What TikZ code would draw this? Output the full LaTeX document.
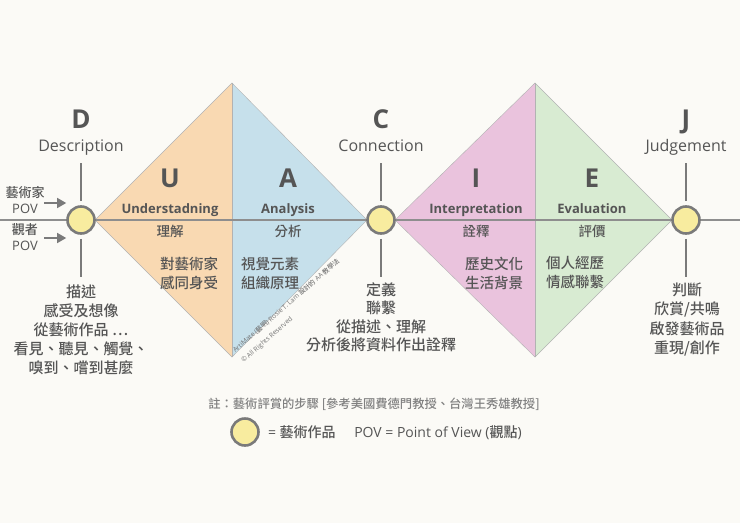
\documentclass[tikz,border=0pt]{standalone}
\usepackage{fontspec}
\setmainfont{Open Sans}
\newfontfamily\cjk{Noto Sans CJK TC}[UprightFont=* Medium, BoldFont=* Bold]
\usetikzlibrary{arrows.meta,calc,positioning}

\definecolor{paper}{HTML}{FBFAF6}
\definecolor{ink}{HTML}{555555}
\definecolor{rim}{HTML}{7A7A7A}
\definecolor{artfill}{HTML}{F8EC9F}
\definecolor{fillU}{HTML}{F9D9B2}
\definecolor{fillA}{HTML}{C6E0EB}
\definecolor{fillI}{HTML}{EAC3DD}
\definecolor{fillE}{HTML}{D8EBD2}

\tikzset{
  artwork/.style={circle, draw=rim, line width=2.6pt, fill=artfill, minimum size=27pt, inner sep=0pt},
  bigletter/.style={font=\fontsize{26}{26}\selectfont\bfseries, text=ink, inner sep=0pt, anchor=base},
  stepname/.style={font=\fontsize{16}{16}\selectfont, text=ink, inner sep=0pt, anchor=base},
  phase/.style={font=\fontsize{13}{13}\selectfont\bfseries, text=ink, inner sep=0pt, anchor=base},
  phasezh/.style={font=\cjk\fontsize{13.5}{13.5}\selectfont, text=ink, inner sep=0pt},
  detail/.style={font=\cjk\fontsize{14.5}{19}\selectfont, text=ink, inner sep=0pt, align=center},
  note/.style={font=\cjk\fontsize{15}{15}\selectfont, text=ink, inner sep=0pt},
  povlabel/.style={font=\fontsize{13}{16.5}\selectfont, text=ink, inner sep=0pt, align=center},
  pov/.style={draw=rim, line width=1.4pt, -{Triangle[width=10pt,length=9pt]}},
  tick/.style={draw=rim, line width=1.5pt},
  axis/.style={draw=rim!85, line width=1.3pt},
  edge/.style={draw=black!30, line width=0.4pt},
  footnote/.style={font=\cjk\fontsize{12.3}{12.3}\selectfont, text=black!50, inner sep=0pt},
  legend/.style={font=\fontsize{14}{14}\selectfont, text=ink, inner sep=0pt},
  credit/.style={font=\fontsize{6.6}{7}\selectfont, text=black!55, inner sep=0pt}
}

\begin{document}
\begin{tikzpicture}[x=1pt, y=-1pt]
	\useasboundingbox[fill=paper] (0,0) rectangle (740,523);
	% the two diamonds
	\fill[fillU] (95,220) -- (232,83) -- (232,357) -- cycle;
	\fill[fillA] (232,83) -- (367,220) -- (232,357) -- cycle;
	\fill[fillI] (395,220) -- (535,83) -- (535,357) -- cycle;
	\fill[fillE] (535,83) -- (672,220) -- (535,357) -- cycle;
	\draw[edge] (95,220) -- (232,83) -- (367,220) -- (232,357) -- cycle;
	\draw[edge] (395,220) -- (535,83) -- (672,220) -- (535,357) -- cycle;
	\draw[edge] (232,83) -- (232,357);
	\draw[edge] (535,83) -- (535,357);
	\draw[axis] (0,220) -- (740,220);

	% art works
	\foreach \n/\x in {D/81,C/381,J/686}{
		\node[artwork] (\n) at (\x,220) {};
		\draw[tick] ([yshift=4pt]\n.north) -- ++(0,-38);
		\draw[tick] ([yshift=-4pt]\n.south) -- ++(0,38);
	}
	\foreach \n/\x/\name in {D/81/Description,C/381/Connection,J/686/Judgement}{
		\node[bigletter] (\n letter) at (\x,128) {\n};
		\node[stepname] (\n name) at (\x,151) {\name};
	}

	% phases
	\foreach \n/\x/\name/\zh in {U/170/Understadning/理解,A/288/Analysis/分析,I/476/Interpretation/詮釋,E/592/Evaluation/評價}{
		\node[bigletter] (\n letter) at (\x,187) {\n};
		\node[phase] (\n name) at (\x,213) {\name};
		\node[phasezh] (\n zh) at (\x,231) {\zh};
	}
	\node[detail] (Udetail) at (189,273) {對藝術家\\感同身受};
	\node[detail] (Adetail) at (270,273) {視覺元素\\組織原理};
	\node[detail] (Idetail) at (494,273) {歷史文化\\生活背景};
	\node[detail] (Edetail) at (575,273) {個人經歷\\情感聯繫};

	% notes under the art works
	\foreach \t [count=\i] in {描述,感受及想像,從藝術作品 \ldots,看見、聽見、觸覺、,嗅到、嚐到甚麼}
		\node[note] (Dnote\i) at (81,{273+19*\i}) {\t};
	\foreach \t [count=\i] in {定義,聯繫,從描述、理解,分析後將資料作出詮釋}
		\node[note] (Cnote\i) at (381,{271+18.5*\i}) {\t};
	\foreach \t [count=\i] in {判斷,欣賞/共鳴,啟發藝術品,重現/創作}
		\node[note] (Jnote\i) at (687,{271+19.3*\i}) {\t};

	% points of view
	\node[povlabel] (artist) at (25,200) {{\cjk 藝術家}\\POV};
	\node[povlabel] (viewer) at (25,237) {{\cjk 觀者}\\POV};
	\coordinate (artistpov) at (44,203);
	\coordinate (viewerpov) at (44,238);
	\draw[pov] (artistpov) -- (artistpov -| D.west);
	\draw[pov] (viewerpov) -- (viewerpov -| D.west);

	% credit
	\node[credit, rotate=41, anchor=south west] (credit1) at (236,354) {ArtiMate ({\cjk 藝明}) Rosie T. Lam {\cjk 設計的} AA {\cjk 教學法}};
	\node[credit, rotate=41, anchor=north west] (credit2) at (240,359) {© All Rights Reserved};

	% legend
	\node[footnote] (source) at (374,404) {註：藝術評賞的步驟 [參考美國費德門教授、台灣王秀雄教授]};
	\node[artwork] (key) at (245,432) {};
	\node[legend, right=8pt of key] (keytext) {= {\cjk 藝術作品}};
	\node[legend] (povkey) at (438,433) {POV = Point of View ({\cjk 觀點})};
\end{tikzpicture}
\end{document}
